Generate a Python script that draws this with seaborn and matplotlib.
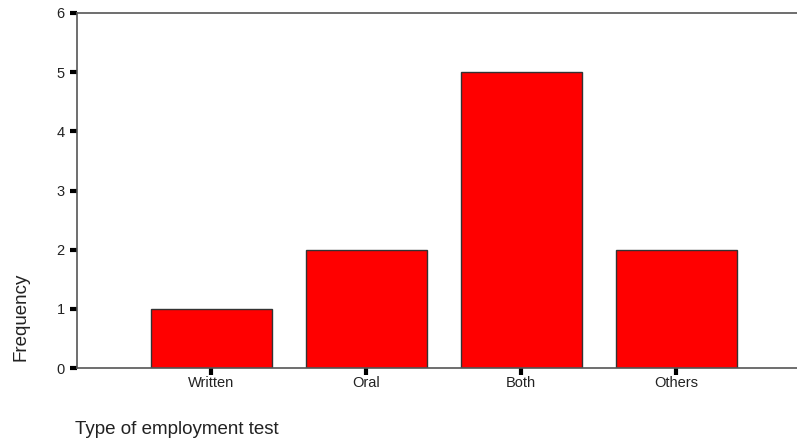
import numpy as np
import pandas as pd
import matplotlib
matplotlib.use('Agg')
import matplotlib.pyplot as plt
import seaborn as sns

# Data
categories = ['Written', 'Oral', 'Both', 'Others']
frequency = [1, 2, 5, 2]
y_ticks = [0, 1, 2, 3, 4, 5, 6]

df = pd.DataFrame({'Type': categories, 'Frequency': frequency})

sns.set_style('white')
plt.rcParams['font.family'] = ['Liberation Sans', 'DejaVu Sans']

fig = plt.figure(figsize=(7.97, 4.42), dpi=100)
# axes box: x 77..797, y 13..368 in pixels
ax = fig.add_axes([77 / 797, 1 - 368 / 442, (797 - 77) / 797, (368 - 13) / 442])

sns.barplot(data=df, x='Type', y='Frequency', color='#FF0000', width=0.78,
            edgecolor='#333333', linewidth=1.0, saturation=1, ax=ax)

ax.set_xlim(-0.865, 3.78)
ax.set_ylim(0, 6)
ax.set_yticks(y_ticks)

for side in ['left', 'bottom', 'top']:
    ax.spines[side].set_visible(True)
    ax.spines[side].set_color('#555555')
    ax.spines[side].set_linewidth(1.2)
ax.spines['right'].set_visible(False)

ax.tick_params(axis='both', which='both', direction='out', length=5, width=3,
               color='black', labelsize=10.5, labelcolor='#222222')
ax.tick_params(axis='y', pad=4)
ax.tick_params(axis='x', pad=1)
ax.yaxis.set_ticks_position('left')
ax.xaxis.set_ticks_position('bottom')

ax.set_xlabel('')
ax.set_ylabel('Frequency', fontsize=13.5, color='#222222')
# SPSS puts the axis title low, near the origin
ax.yaxis.set_label_coords(-0.066, 0.144)

fig.text(75 / 797, 1 - 430 / 442, 'Type of employment test', fontsize=13.5,
         color='#222222', ha='left', va='center')

fig.savefig('out.png', dpi=100)
